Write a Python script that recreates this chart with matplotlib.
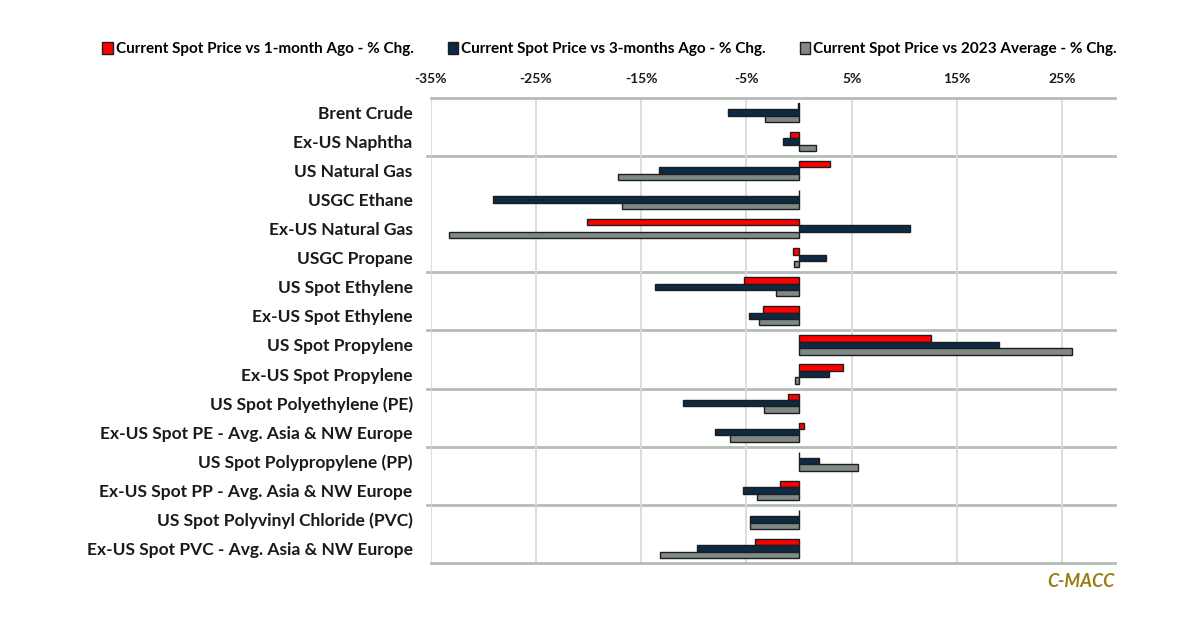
import matplotlib
matplotlib.use("Agg")
import matplotlib.pyplot as plt
import numpy as np
from matplotlib.patches import Patch

plt.rcParams['font.family'] = ['Lato', 'DejaVu Sans']

categories = [
    "Brent Crude", "Ex-US Naphtha", "US Natural Gas", "USGC Ethane",
    "Ex-US Natural Gas", "USGC Propane", "US Spot Ethylene", "Ex-US Spot Ethylene",
    "US Spot Propylene", "Ex-US Spot Propylene", "US Spot Polyethylene (PE)",
    "Ex-US Spot PE - Avg. Asia & NW Europe", "US Spot Polypropylene (PP)",
    "Ex-US Spot PP - Avg. Asia & NW Europe", "US Spot Polyvinyl Chloride (PVC)",
    "Ex-US Spot PVC - Avg. Asia & NW Europe",
]
chg_1m = [-0.1, -0.9, 2.9, 0.0, -20.2, -0.6, -5.2, -3.4, 12.5, 4.2, -1.1, 0.5, 0.0, -1.8, 0.0, -4.2]
chg_3m = [-6.8, -1.5, -13.3, -29.1, 10.5, 2.6, -13.7, -4.8, 19.0, 2.8, -11.0, -8.0, 1.9, -5.3, -4.7, -9.7]
chg_avg = [-3.2, 1.6, -17.2, -16.8, -33.3, -0.5, -2.2, -3.8, 25.9, -0.4, -3.3, -6.6, 5.6, -4.0, -4.7, -13.2]
series_names = [
    "Current Spot Price vs 1-month Ago - % Chg.",
    "Current Spot Price vs 3-months Ago - % Chg.",
    "Current Spot Price vs 2023 Average - % Chg.",
]
x_ticks = [-35, -25, -15, -5, 5, 15, 25]
group_breaks = [1.5, 5.5, 7.5, 9.5, 11.5, 13.5]

colors = ["#FF0000", "#0C2A44", "#808A85"]
edge = "#1e1e1e"

fig = plt.figure(figsize=(12, 6.27), dpi=100)
ax = fig.add_axes([0.359, 0.102, 0.570, 0.742])

y = np.arange(len(categories))
h = 0.22
for i, (vals, c) in enumerate(zip([chg_1m, chg_3m, chg_avg], colors)):
    ax.barh(y + (i - 1) * h, vals, height=h, color=c, edgecolor=edge, linewidth=1.0, zorder=3)

ax.set_xlim(-35, 30)
ax.set_ylim(len(categories) - 0.5, -0.5)
ax.set_yticks(y)
ax.set_yticklabels(categories, fontsize=12.5, fontweight='bold', color='#1a1a1a')
ax.xaxis.tick_top()
ax.set_xticks(x_ticks)
ax.set_xticklabels([f"{t}%" for t in x_ticks], fontsize=10, fontweight='bold', color='#1a1a1a')
ax.tick_params(axis='x', length=0, pad=9)
ax.tick_params(axis='y', length=0, pad=13)

ax.grid(axis='x', color='#d9d9d9', linewidth=1.3, zorder=0)
for s in ['left', 'right']:
    ax.spines[s].set_visible(False)
for s in ['top', 'bottom']:
    ax.spines[s].set_color('#b5bdb9')
    ax.spines[s].set_linewidth(2)
for b in group_breaks:
    ax.axhline(b, xmin=-0.006, xmax=1.0, color='#b5bdb9', linewidth=2, zorder=1, clip_on=False)

handles = [Patch(facecolor=c, edgecolor=edge, linewidth=1.0) for c in colors]
fig.legend(handles, series_names, loc='center', bbox_to_anchor=(0.508, 0.922), ncol=3,
           frameon=False, prop={'weight': 'bold', 'size': 11}, handlelength=0.7,
           handleheight=0.9, handletextpad=0.2, columnspacing=2.2)

fig.text(0.929, 0.073, "C-MACC", ha='right', va='center', fontsize=13,
         fontweight='bold', fontstyle='italic', color='#9B7B14')

fig.savefig("out.png", dpi=100, facecolor='white')
